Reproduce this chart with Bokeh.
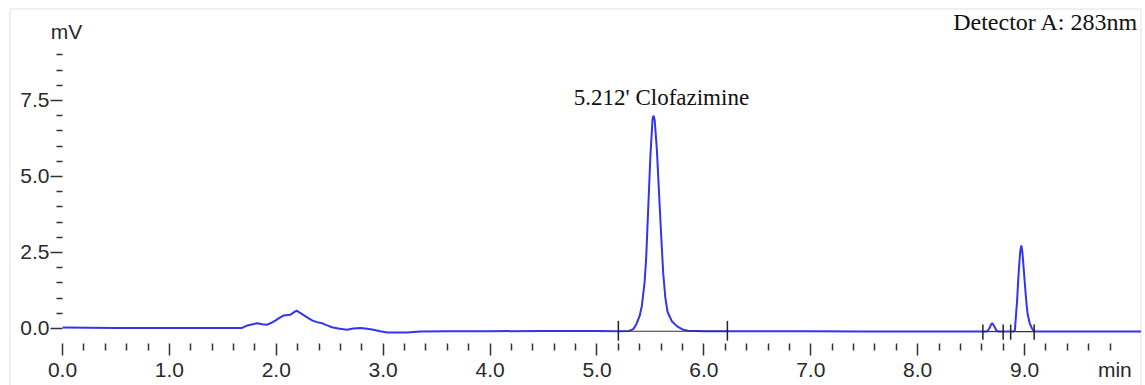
from bokeh.plotting import figure
from bokeh.models import FixedTicker, Label, Range1d, BoxAnnotation
from bokeh.embed import file_html
from bokeh.resources import INLINE

# ---- data ----
time_min = [0.00, 0.50, 1.00, 1.40, 1.68, 1.73, 1.78, 1.82, 1.87, 1.91, 1.95, 1.99,
            2.03, 2.07, 2.13, 2.16, 2.19, 2.22, 2.26, 2.30, 2.34, 2.38, 2.43, 2.47,
            2.52, 2.58, 2.66, 2.72, 2.79, 2.85, 2.91, 2.97, 3.04, 3.22, 3.35, 3.60,
            4.00, 4.50, 5.00, 5.20, 5.30, 5.34, 5.37, 5.40, 5.42, 5.445, 5.46, 5.48,
            5.50, 5.52, 5.53, 5.54, 5.56, 5.58, 5.60, 5.62, 5.64, 5.66, 5.70, 5.75,
            5.80, 5.85, 6.00, 6.50, 7.00, 7.50, 8.00, 8.50, 8.65, 8.67, 8.69, 8.70,
            8.72, 8.74, 8.76, 8.90, 8.91, 8.92, 8.93, 8.94, 8.95, 8.96, 8.97, 8.98,
            8.99, 9.00, 9.01, 9.02, 9.03, 9.05, 9.07, 9.09, 9.50, 10.09]
signal_mv = [0.03, 0.02, 0.02, 0.02, 0.02, 0.10, 0.14, 0.17, 0.14, 0.12, 0.18, 0.26,
             0.35, 0.43, 0.45, 0.52, 0.59, 0.52, 0.43, 0.34, 0.26, 0.21, 0.17, 0.11,
             0.04, 0.00, -0.04, 0.00, 0.02, -0.01, -0.04, -0.09, -0.13, -0.13, -0.10, -0.09,
             -0.09, -0.08, -0.08, -0.09, -0.08, -0.02, 0.15, 0.42, 0.75, 1.50, 2.30, 4.00,
             5.70, 6.90, 7.00, 6.85, 5.90, 4.50, 3.10, 1.80, 1.00, 0.55, 0.24, 0.07,
             -0.03, -0.07, -0.09, -0.09, -0.09, -0.10, -0.10, -0.10, -0.10, 0.00, 0.15, 0.17,
             0.05, -0.08, -0.10, -0.10, -0.05, 0.45, 0.90, 1.55, 2.10, 2.55, 2.73, 2.50,
             2.05, 1.60, 1.15, 0.75, 0.45, 0.15, 0.00, -0.10, -0.10, -0.10]

# integration marks
tall_marks_min = [5.20, 6.22]
short_marks_min = [8.61, 8.80, 8.87, 9.09]
baseline_start_min = [5.20, 8.61, 8.87]
baseline_end_min = [6.22, 8.80, 9.09]
baseline_level_mv = [-0.09, -0.10, -0.10]

# axes
x_major_ticks = [0, 1, 2, 3, 4, 5, 6, 7, 8, 9]
x_tick_labels = ["0.0", "1.0", "2.0", "3.0", "4.0", "5.0", "6.0", "7.0", "8.0", "9.0"]
x_minor_ticks = [round(0.2 * i, 1) for i in range(51) if i % 5 != 0]
y_major_ticks = [0.0, 2.5, 5.0, 7.5]
y_tick_labels = ["0.0", "2.5", "5.0", "7.5"]
y_minor_ticks = [0.5, 1.0, 1.5, 2.0, 3.0, 3.5, 4.0, 4.5, 5.5, 6.0, 6.5, 7.0, 8.0, 8.5, 9.0]

peak_label = "5.212' Clofazimine"
detector_label = "Detector A: 283nm"

FRAME = "#9c9c9c"
TRACE = "#3434ee"
INK = "#2a2a2a"
TICK = "#333333"

p = figure(width=1145, height=385, output_backend="svg", toolbar_location=None,
           x_range=Range1d(-0.4958, 10.094), y_range=Range1d(-1.875, 10.526),
           min_border_left=9, min_border_right=4, min_border_top=8, min_border_bottom=0)
p.outline_line_color = None
p.xgrid.visible = False
p.ygrid.visible = False
p.background_fill_color = "white"
p.border_fill_color = "white"

# window frame (open at the bottom, as in the reference crop)
p.add_layout(BoxAnnotation(bottom=-3.0, fill_alpha=0, line_color=FRAME, line_width=2))

# trace
p.line(time_min, signal_mv, line_color=TRACE, line_width=2)

# integration baseline & marks
p.segment(x0=baseline_start_min, y0=baseline_level_mv, x1=baseline_end_min, y1=baseline_level_mv,
          line_color="#333333", line_width=1.2)
p.segment(x0=tall_marks_min, y0=[-0.40] * len(tall_marks_min), x1=tall_marks_min,
          y1=[0.25] * len(tall_marks_min), line_color="#222222", line_width=1.5)
p.segment(x0=short_marks_min, y0=[-0.37] * len(short_marks_min), x1=short_marks_min,
          y1=[0.13] * len(short_marks_min), line_color="#222222", line_width=1.5)

# axes styling (axes pinned inside the frame at fixed data locations)
xa = p.xaxis[0]
xa.fixed_location = -0.49
xa.ticker = FixedTicker(ticks=x_major_ticks, minor_ticks=x_minor_ticks)
xa.major_label_overrides = {t: l for t, l in zip(x_major_ticks, x_tick_labels)}
xa.axis_line_color = None
xa.major_tick_in = 0
xa.major_tick_out = 12
xa.minor_tick_in = 0
xa.minor_tick_out = 7
xa.major_tick_line_color = TICK
xa.minor_tick_line_color = TICK
xa.major_tick_line_width = 1.5
xa.minor_tick_line_width = 1.5
xa.major_label_standoff = 8
xa.major_label_text_font = "Liberation Sans"
xa.major_label_text_font_size = "21px"
xa.major_label_text_color = INK

ya = p.yaxis[0]
ya.fixed_location = 0
ya.ticker = FixedTicker(ticks=y_major_ticks, minor_ticks=y_minor_ticks)
ya.major_label_overrides = {t: l for t, l in zip(y_major_ticks, y_tick_labels)}
ya.axis_line_color = None
ya.major_tick_in = 0
ya.major_tick_out = 12
ya.minor_tick_in = 0
ya.minor_tick_out = 6
ya.major_tick_line_color = TICK
ya.minor_tick_line_color = TICK
ya.major_tick_line_width = 1.5
ya.minor_tick_line_width = 1.5
ya.major_label_standoff = 1
ya.major_label_text_font = "Liberation Sans"
ya.major_label_text_font_size = "21px"
ya.major_label_text_color = INK

# texts
p.add_layout(Label(x=0.037, y=9.76, text="mV", text_align="center", text_baseline="alphabetic",
                   text_font="Liberation Sans", text_font_size="21px", text_color=INK))
p.add_layout(Label(x=10.066, y=10.09, text=detector_label, text_align="right",
                   text_baseline="alphabetic", text_font="Liberation Serif",
                   text_font_size="24px", text_color="#111111"))
p.add_layout(Label(x=5.603, y=7.61, text=peak_label, text_align="center",
                   text_baseline="alphabetic", text_font="Liberation Serif",
                   text_font_size="23px", text_color="#111111"))
p.add_layout(Label(x=9.845, y=-1.34, text="min", text_align="center", text_baseline="alphabetic",
                   text_font="Liberation Sans", text_font_size="21px", text_color=INK))

open("out.html", "w").write(file_html(p, INLINE))
